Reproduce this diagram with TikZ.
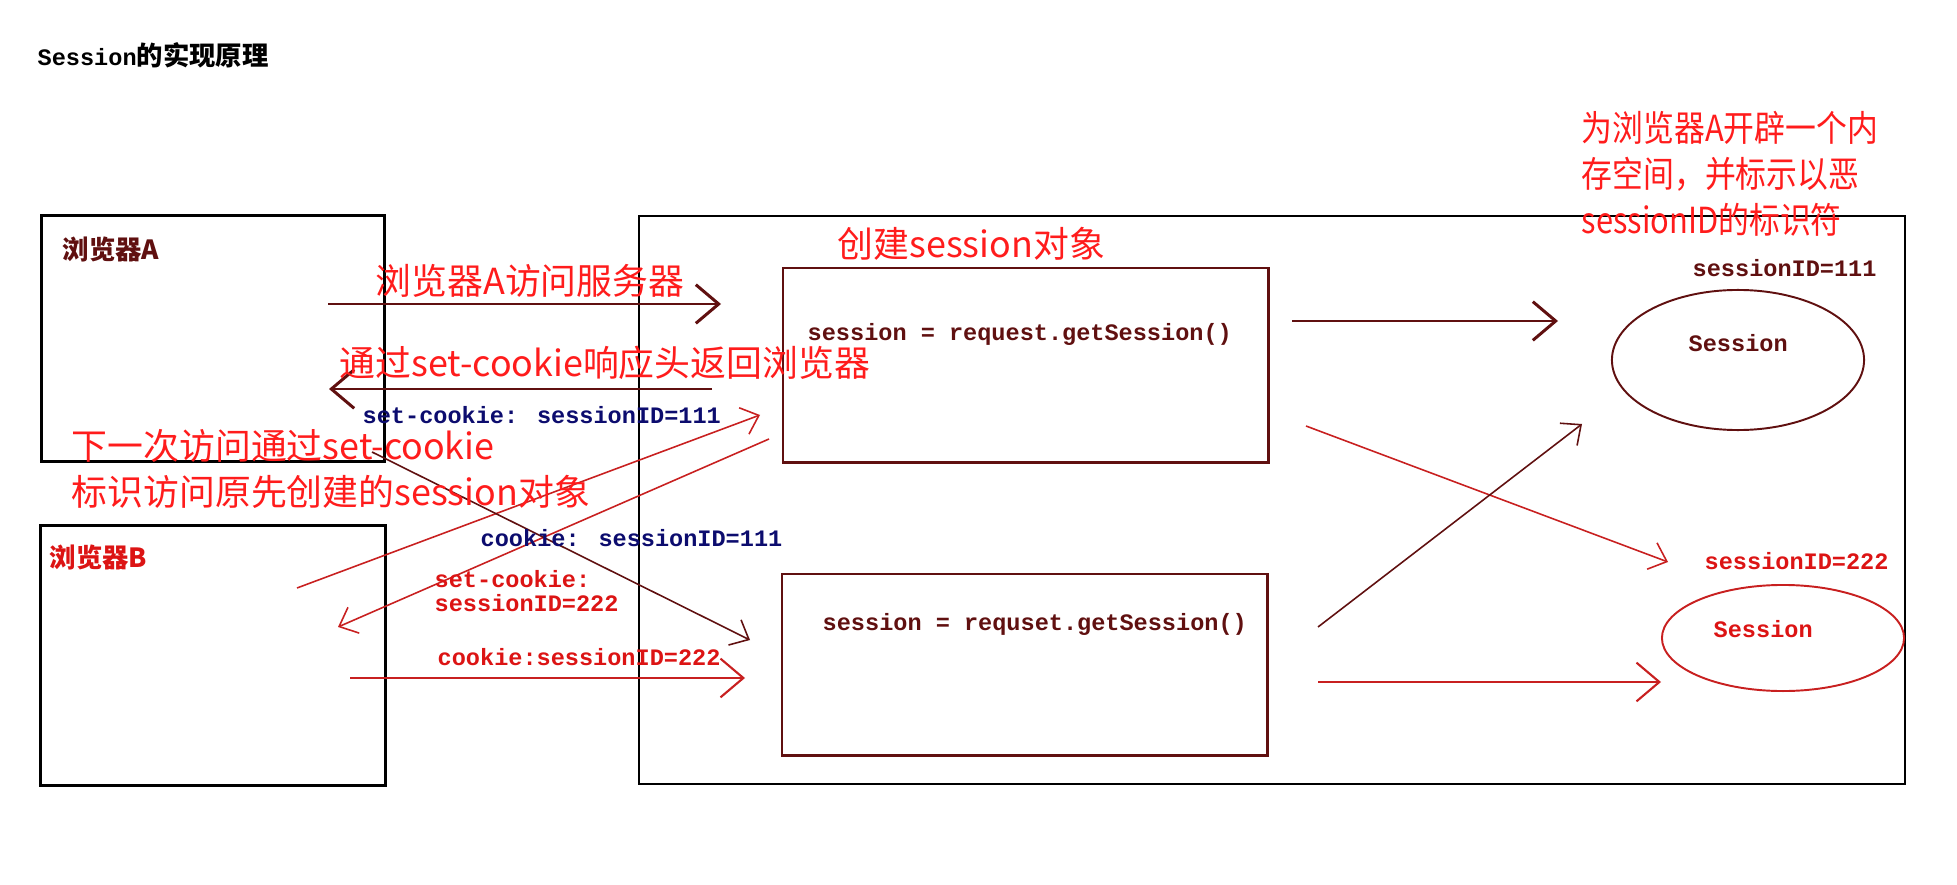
\documentclass[tikz,border=0pt]{standalone}
\usepackage{fontspec}
\usepackage{graphicx}
\usetikzlibrary{positioning,shapes.geometric,arrows.meta}
\newfontfamily\cjk{Noto Sans CJK SC}
\newfontfamily\mono{Liberation Mono}
\definecolor{maroon}{RGB}{96,16,16}
\definecolor{linered}{RGB}{200,32,32}
\definecolor{notered}{RGB}{255,28,28}
\definecolor{codered}{RGB}{220,20,20}
\definecolor{navy}{RGB}{12,12,110}
\newcommand{\narrow}[1]{\scalebox{0.86}[1]{#1}}
\tikzset{browser/.style={draw=black,line width=0.85pt,anchor=north west,inner sep=0pt},
         inbox/.style={draw=maroon,line width=0.7pt,anchor=north west,inner sep=0pt,minimum width=4.85cm},
         store/.style={ellipse,draw,line width=0.55pt,inner sep=0pt},
         note/.style={text=notered,anchor=west,inner sep=0pt,align=left,font=\cjk\fontsize{10.2}{13}\selectfont},
         code/.style={anchor=west,inner sep=0pt,align=left,font=\mono\bfseries\fontsize{6.7}{6.6}\selectfont},
         tag/.style={anchor=west,inner sep=0pt,font=\cjk\bfseries\fontsize{7.5}{9}\selectfont}
}
\tikzstyle{arrow} = [line width=0.85pt,-{Straight Barb[length=6.5pt,width=11pt]}]
\tikzstyle{thinarrow} = [line width=0.45pt,-{Straight Barb[length=4.5pt,width=8pt]}]

\begin{document}
\begin{tikzpicture}[x=0.01cm,y=-0.01cm]
\useasboundingbox (0,0) rectangle (1957,885);

\node[tag,text=black] (title) at (37,55) {{\mono\fontsize{6.7}{8}\selectfont Session}的实现原理};

% browsers and server
\node[browser,minimum width=3.43cm,minimum height=2.46cm] (browserA) at (40,214) {};
\node[browser,minimum width=3.45cm,minimum height=2.60cm] (browserB) at (39,524) {};
\node[browser,line width=0.6pt,minimum width=12.65cm,minimum height=5.68cm] (server) at (638,215) {};
\node[tag,text=maroon] (nameA) at (62,249) {浏览器A};
\node[tag,text=codered] (nameB) at (49,557) {浏览器B};

\node[inbox,minimum height=1.94cm] (boxA) at (782,267) {};
\node[inbox,minimum height=1.81cm] (boxB) at (781,573) {};
\node[code,text=maroon] (getA) at (807,334) {session = request.getSession()};
\node[code,text=maroon] (getB) at (822,624) {session = requset.getSession()};

\node[store,draw=maroon,minimum width=2.52cm,minimum height=1.40cm] (sessA) at (1738,360) {};
\node[store,draw=linered,minimum width=2.42cm,minimum height=1.06cm] (sessB) at (1783,638) {};
\node[code,text=maroon] (objA) at (1688,343) {Session};
\node[code,text=codered] (objB) at (1713,629) {Session};
\node[code,text=maroon] (idA) at (1692,268) {sessionID=111};
\node[code,text=codered] (idB) at (1704,561) {sessionID=222};

% arrow ends
\coordinate (reqA) at (328,304);   \coordinate (reqAend) at (721,304);
\coordinate (respA) at (712,389);  \coordinate (respAend) at (329,389);
\coordinate (reqB) at (297,588);   \coordinate (reqBend) at (760,415);
\coordinate (respB) at (769,439);  \coordinate (respBend) at (338,627);
\coordinate (againA) at (372,452); \coordinate (againAend) at (750,640);
\coordinate (againB) at (350,678); \coordinate (againBend) at (745,678);
\coordinate (newA) at (1292,321);  \coordinate (newAend) at (1558,321);
\coordinate (newB) at (1306,426);  \coordinate (newBend) at (1668,562);
\coordinate (useA) at (1318,627);  \coordinate (useAend) at (1582,424);
\coordinate (useB) at (1318,682);  \coordinate (useBend) at (1661,682);

\draw[arrow,maroon] (reqA)--(reqAend);
\draw[arrow,maroon] (respA)--(respAend);
\draw[thinarrow,linered] (reqB)--(reqBend);
\draw[thinarrow,linered] (respB)--(respBend);
\draw[thinarrow,maroon] (againA)--(againAend);
\draw[arrow,linered,line width=0.6pt] (againB)--(againBend);
\draw[arrow,maroon] (newA)--(newAend);
\draw[thinarrow,linered] (newB)--(newBend);
\draw[thinarrow,maroon] (useA)--(useAend);
\draw[arrow,linered,line width=0.6pt] (useB)--(useBend);

% labels
\node[note] (visit) at (375,281) {浏览器A访问服务器};
\node[note] (reply) at (339,363) {通过set-cookie响应头返回浏览器};
\node[note] (create) at (837,244) {创建session对象};
\node[note] (next) at (71,469) {下一次访问通过set-cookie\\标识访问原先创建的session对象};
\node[note] (alloc) at (1581,174) {\narrow{为浏览器A开辟一个内}\\\narrow{存空间，并标示以恶}\\\narrow{sessionID的标识符}};
\node[code,text=navy] (setA) at (362,415) {set-cookie: sessionID=111};
\node[code,text=navy] (ckA) at (480,538) {cookie: sessionID=111};
\node[code,text=codered] (setB) at (434,591) {set-cookie:\\sessionID=222};
\node[code,text=codered] (ckB) at (437,657) {cookie:sessionID=222};

\end{tikzpicture}
\end{document}
